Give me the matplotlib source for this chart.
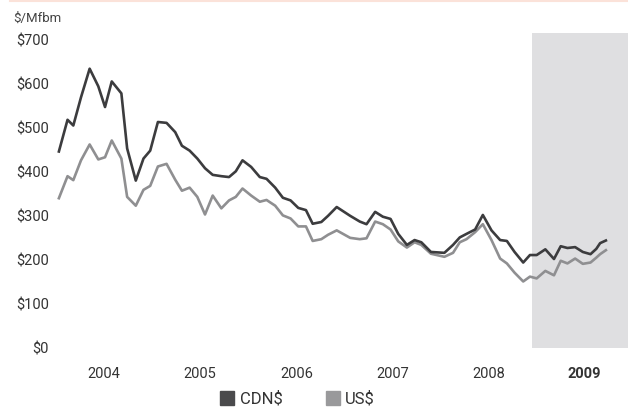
import matplotlib.pyplot as plt
from matplotlib.lines import Line2D

plt.rcParams['font.family'] = ['Roboto', 'DejaVu Sans']

# dati (anno decimale, $/Mfbm)
dates = [2004.03, 2004.12, 2004.18, 2004.26, 2004.35, 2004.44, 2004.51, 2004.58,
         2004.68, 2004.74, 2004.83, 2004.91, 2004.98, 2005.06, 2005.15, 2005.24,
         2005.31, 2005.39, 2005.47, 2005.55, 2005.63, 2005.72, 2005.80, 2005.87,
         2005.94, 2006.03, 2006.12, 2006.19, 2006.28, 2006.36, 2006.44, 2006.52,
         2006.60, 2006.67, 2006.76, 2006.83, 2006.92, 2007.06, 2007.16, 2007.23,
         2007.32, 2007.40, 2007.48, 2007.56, 2007.65, 2007.73, 2007.80, 2007.90,
         2008.04, 2008.13, 2008.20, 2008.27, 2008.36, 2008.44, 2008.53, 2008.62,
         2008.69, 2008.77, 2008.86, 2008.93, 2009.00, 2009.09, 2009.18, 2009.25,
         2009.32, 2009.40, 2009.48, 2009.56, 2009.62, 2009.66, 2009.72]

cdn = [446, 518, 505, 569, 634, 594, 547, 605,
       578, 453, 380, 430, 448, 513, 511, 490,
       459, 448, 430, 408, 393, 390, 388, 401,
       426, 411, 388, 384, 364, 341, 335, 318,
       313, 282, 286, 300, 320, 300, 287, 281,
       309, 298, 293, 259, 234, 245, 240, 218,
       216, 234, 251, 259, 269, 302, 267, 245,
       243, 218, 194, 211, 211, 224, 202, 231,
       227, 229, 218, 213, 225, 238, 244]

usd = [340, 390, 381, 426, 462, 428, 433, 471,
       430, 343, 323, 359, 368, 412, 418, 382,
       357, 364, 343, 303, 346, 317, 335, 343,
       362, 346, 332, 336, 323, 301, 294, 276,
       276, 243, 247, 257, 267, 250, 247, 249,
       287, 281, 269, 242, 228, 240, 234, 214,
       207, 216, 240, 247, 263, 281, 245, 203,
       192, 171, 151, 162, 158, 175, 165, 198,
       192, 203, 191, 194, 205, 213, 222]

years = [2004, 2005, 2006, 2007, 2008, 2009]
y_ticks = [0, 100, 200, 300, 400, 500, 600, 700]
y_labels = ['$0', '$100', '$200', '$300', '$400', '$500', '$600', '$700']

fig = plt.figure(figsize=(6.28, 4.07), dpi=100)
ax = fig.add_axes([56 / 628, 1 - 348 / 407, 1 - 56 / 628, 315 / 407])

# zona evidenziata 2009
ax.axvspan(2008.95, 2009.95, color='#dfdfe1', lw=0, zorder=0)

ax.plot(dates, usd, color='#8f8f91', lw=1.9, zorder=2)
ax.plot(dates, cdn, color='#3c3c3e', lw=1.9, zorder=3)

ax.set_xlim(2004.0, 2009.95)
ax.set_ylim(10, 715)

ax.set_yticks(y_ticks)
ax.set_yticklabels(y_labels, fontsize=10.5, color='#333333')
ax.set_xticks([y + 0.5 for y in years])
ax.set_xticklabels([str(y) for y in years], fontsize=10.5, color='#333333')
ax.get_xticklabels()[-1].set_fontweight('bold')
ax.tick_params(axis='both', length=0)
ax.tick_params(axis='y', pad=5)
ax.tick_params(axis='x', pad=14)
for s in ax.spines.values():
    s.set_visible(False)

fig.text(13 / 628, 1 - 18 / 407, '$/Mfbm', fontsize=9.5, color='#444444', va='center')

# linea rosa in alto
fig.add_artist(Line2D([10 / 628, 1], [0.998, 0.998], color='#fbe2d9', lw=1.5))

handles = [Line2D([], [], marker='s', ls='', color='#4a4a4c', markersize=10),
           Line2D([], [], marker='s', ls='', color='#99999b', markersize=10)]
fig.legend(handles, ['CDN$', 'US$'], loc='center', bbox_to_anchor=(0.474, 0.02),
           ncol=2, frameon=False, fontsize=12, handlelength=0.8, handletextpad=0.35,
           columnspacing=2.6, labelcolor='#333333', borderaxespad=0, borderpad=0)

fig.savefig('out.png', dpi=100)
